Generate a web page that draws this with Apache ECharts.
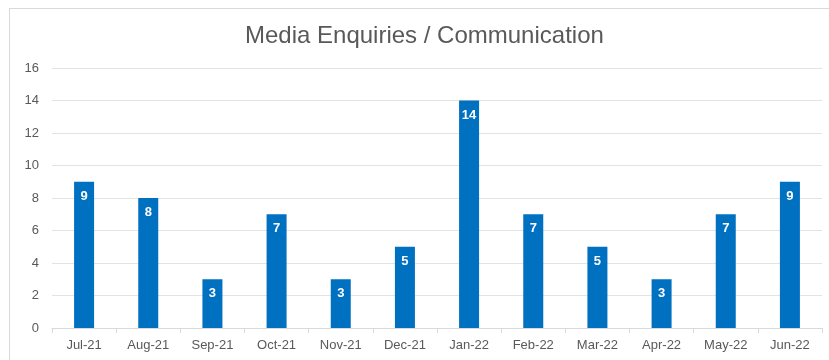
<!DOCTYPE html>
<html>
<head>
<meta charset="utf-8">
<style>
  html, body { margin: 0; padding: 0; background: #fff; }
  #chart { width: 829px; height: 360px; }
  #frame { position: absolute; left: 9px; top: 8px; width: 830px; height: 360px; border: 1px solid #d9d9d9; box-sizing: border-box; pointer-events: none; }
</style>
<script src="https://cdn.jsdelivr.net/npm/echarts@6/dist/echarts.min.js"></script>
</head>
<body>
<div id="chart"></div>
<div id="frame"></div>
<script>
const months = ['Jul-21', 'Aug-21', 'Sep-21', 'Oct-21', 'Nov-21', 'Dec-21', 'Jan-22', 'Feb-22', 'Mar-22', 'Apr-22', 'May-22', 'Jun-22'];
const enquiries = [9, 8, 3, 7, 3, 5, 14, 7, 5, 3, 7, 9];

const chart = echarts.init(document.getElementById('chart'), null, { renderer: 'canvas' });
chart.setOption({
  animation: false,
  textStyle: { fontFamily: 'Liberation Sans, Arial, sans-serif' },
  title: {
    text: 'Media Enquiries / Communication',
    left: 245,
    top: 24,
    padding: 0,
    textStyle: { fontSize: 24, fontWeight: 'normal', color: '#595959' }
  },
  grid: { left: 52, right: 7, top: 68, bottom: 32 },
  xAxis: {
    type: 'category',
    data: months,
    axisLine: { lineStyle: { color: '#d9d9d9' } },
    axisTick: { show: true, length: 5, lineStyle: { color: '#d9d9d9' } },
    axisLabel: { color: '#595959', fontSize: 13, margin: 11 }
  },
  yAxis: {
    type: 'value',
    min: 0,
    max: 16,
    interval: 2,
    axisLine: { show: false },
    axisTick: { show: false },
    axisLabel: { color: '#595959', fontSize: 13, margin: 13 },
    splitLine: { lineStyle: { color: '#e3e3e3' } }
  },
  series: [{
    type: 'bar',
    data: enquiries,
    barWidth: 20,
    itemStyle: { color: '#0070C0' },
    label: {
      show: true,
      position: 'insideTop',
      distance: 8,
      color: '#fff',
      fontWeight: 'bold',
      fontSize: 13
    }
  }]
});
</script>
</body>
</html>
